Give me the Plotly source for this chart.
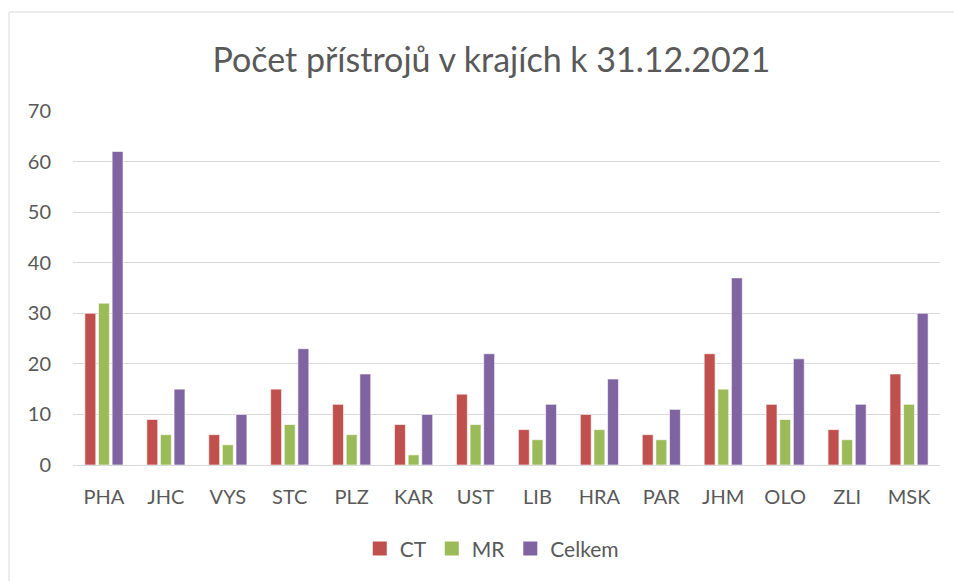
import plotly.graph_objects as go

regions = ["PHA", "JHC", "VYS", "STC", "PLZ", "KAR", "UST", "LIB", "HRA", "PAR", "JHM", "OLO", "ZLI", "MSK"]
ct = [30, 9, 6, 15, 12, 8, 14, 7, 10, 6, 22, 12, 7, 18]
mr = [32, 6, 4, 8, 6, 2, 8, 5, 7, 5, 15, 9, 5, 12]
celkem = [62, 15, 10, 23, 18, 10, 22, 12, 17, 11, 37, 21, 12, 30]
y_ticks = [0, 10, 20, 30, 40, 50, 60, 70]

series = [("CT", ct, "#C0504D"), ("MR", mr, "#9BBB59"), ("Celkem", celkem, "#8064A2")]
FONT = "Lato, 'Liberation Sans', sans-serif"

fig = go.Figure()
for name, vals, col in series:
    fig.add_trace(go.Bar(
        name=name, x=regions, y=vals, showlegend=False, legendgroup=name,
        marker=dict(color=col, line=dict(color="rgba(255,255,255,0.6)", width=1)),
    ))
# legend entries with larger square swatches
for name, vals, col in series:
    fig.add_trace(go.Scatter(
        name=name, x=[None], y=[None], mode="markers", legendgroup=name,
        marker=dict(symbol="square", size=14, color=col),
    ))

fig.update_layout(
    width=954, height=581,
    margin=dict(l=73, r=14, t=111, b=116),
    paper_bgcolor="white", plot_bgcolor="white",
    barmode="group", bargap=0.34, bargroupgap=0.2,
    font=dict(family=FONT, color="#595959", size=20),
    title=dict(text="Počet přístrojů v krajích k 31.12.2021", x=0.515, xanchor="center",
               y=0.897, yanchor="middle", font=dict(size=34, color="#595959", family=FONT)),
    showlegend=True,
    legend=dict(orientation="h", x=0.483, xanchor="center", y=-0.237, yanchor="middle",
                font=dict(size=21, color="#595959"), traceorder="normal", itemwidth=30),
    xaxis=dict(showgrid=False, showline=True, linecolor="#D9D9D9", linewidth=1,
               ticks="", ticklabelstandoff=14, tickfont=dict(size=20, color="#595959")),
    yaxis=dict(range=[0, 70], tickvals=y_ticks, showgrid=True, gridcolor="#D9D9D9", gridwidth=1,
               zeroline=False, showline=False, ticks="", ticklabelstandoff=21,
               tickfont=dict(size=20, color="#595959")),
    shapes=[dict(type="rect", xref="paper", yref="paper", x0=-0.0738, x1=1.1, y0=-0.4, y1=1.2797,
                 line=dict(color="#D9D9D9", width=1), fillcolor="rgba(0,0,0,0)", layer="below")],
)

fig.write_html("out.html", config={"displayModeBar": False})

# remove default page margin so the figure starts at the window's corner
with open("out.html", encoding="utf-8") as f:
    html = f.read()
html = html.replace("<head>", "<head><style>html,body{margin:0;padding:0;overflow:hidden;}</style>", 1)
with open("out.html", "w", encoding="utf-8") as f:
    f.write(html)
